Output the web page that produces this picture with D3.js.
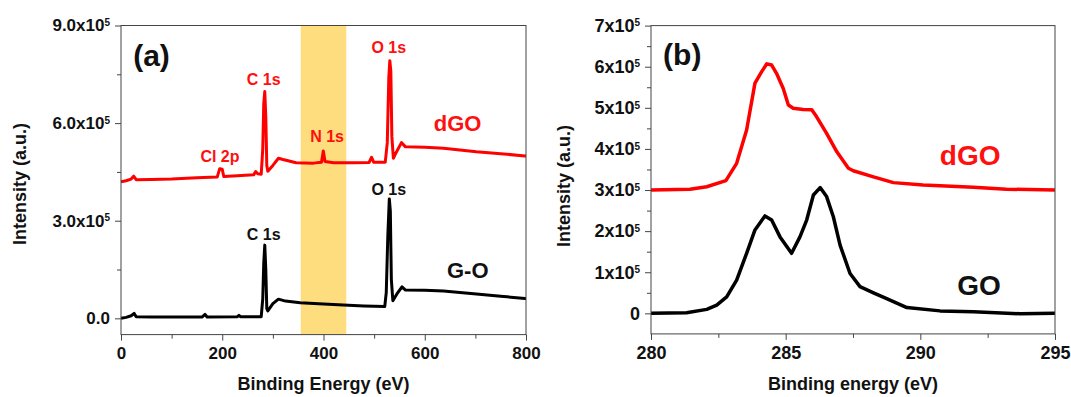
<!DOCTYPE html>
<html>
<head>
<meta charset="utf-8">
<script src="https://cdn.jsdelivr.net/npm/d3@7"></script>
<style>
  body { margin: 0; background: #fff; }
  svg text { font-family: "Liberation Sans", Arial, sans-serif; font-weight: bold; }
</style>
</head>
<body>
<div id="chart"></div>
<script>
// ---- data ----
// (a) survey spectra, [binding energy eV, intensity]
var dgoSurvey = [
  [0, 420000], [10, 423000], [20, 428000], [25, 437000], [30, 426000], [60, 427000],
  [100, 428000], [150, 432000], [190, 434000], [195, 460000], [200, 458000], [203, 436000],
  [230, 438000], [262, 441000], [266, 451000], [270, 444000], [277, 443000], [280, 520000],
  [282, 660000], [284, 697000], [286, 620000], [288, 470000], [290, 452000], [300, 470000],
  [311, 492000], [320, 488000], [346, 478000], [380, 477000], [396, 480000], [399.6, 514000],
  [403, 482000], [420, 478000], [460, 478000], [490, 479000], [495, 495000], [499, 480000],
  [522, 480000], [526, 540000], [529, 740000], [531, 792000], [533, 760000], [535, 560000],
  [538, 492000], [542, 505000], [554, 540000], [562, 527000], [600, 526000], [637, 523000],
  [702, 512000], [750, 506000], [798, 499000], [800, 499000]
];
var goSurvey = [
  [0, 0], [10, 3000], [20, 8000], [26, 15000], [30, 5000], [60, 4000], [100, 4000],
  [160, 4000], [166, 12000], [170, 4000], [230, 5000], [233, 9000], [236, 5000], [270, 5000],
  [277, 5000], [280, 60000], [282, 170000], [284, 225000], [286, 150000], [288, 30000],
  [290, 23000], [300, 45000], [311, 59000], [325, 53000], [354, 48000], [400, 44000],
  [439, 41000], [480, 38000], [521, 36000], [524, 80000], [527, 250000], [530, 367000],
  [532, 330000], [534, 120000], [537, 54000], [545, 75000], [555, 97000], [562, 87000],
  [600, 86000], [637, 84000], [702, 75000], [750, 68000], [798, 61000], [800, 61000]
];
var highlightBand = [355, 445];

// (b) C 1s high resolution
var dgoC1s = [
  [280, 300000], [281.45, 302000], [282.07, 308000], [282.78, 323000], [283.18, 365000],
  [283.55, 446000], [283.86, 560000], [284.11, 588000], [284.3, 607000], [284.48, 604000],
  [284.66, 584000], [284.91, 547000], [285.1, 507000], [285.28, 499000], [285.65, 496000],
  [285.97, 495000], [286.15, 478000], [286.52, 438000], [286.9, 393000], [287.33, 353000],
  [287.51, 347000], [288.26, 332000], [289, 318000], [290.1, 312000], [291.97, 306500],
  [293.2, 302000], [295, 300000]
];
var goC1s = [
  [280, 0], [281.32, 1600], [282.07, 9700], [282.44, 20000], [282.81, 40000], [283.18, 81000],
  [283.55, 146000], [283.86, 203000], [284.23, 237000], [284.48, 227000], [284.79, 186000],
  [285.22, 146000], [285.53, 186000], [285.78, 227000], [286.03, 288000], [286.28, 306000],
  [286.52, 284000], [286.77, 235000], [287.02, 166000], [287.39, 97000], [287.76, 65000],
  [288.26, 50000], [288.75, 36000], [289.5, 14000], [290.73, 6000], [291.97, 4000],
  [293.7, -1000], [295, 0]
];

// ticks
var surveyXTicks = [0, 200, 400, 600, 800];
var surveyXMinor = [100, 300, 500, 700];
var surveyYTicks = [0, 300000, 600000, 900000];
var surveyYLabels = ['0.0', '3.0x10', '6.0x10', '9.0x10'];
var surveyYMinor = [150000, 450000, 750000];
var c1sXTicks = [280, 285, 290, 295];
var c1sXMinor = [282.5, 287.5, 292.5];
var c1sYTicks = [0, 100000, 200000, 300000, 400000, 500000, 600000, 700000];
var c1sYLabels = ['0', '1x10', '2x10', '3x10', '4x10', '5x10', '6x10', '7x10'];
var c1sYMinor = [50000, 150000, 250000, 350000, 450000, 550000, 650000];

// peak labels [text, energy, intensity, colour]
var surveyLabels = [
  ['Cl 2p', 195.5, 480000, 'red'], ['C 1s', 282, 717000, 'red'], ['N 1s', 407, 542000, 'red'],
  ['O 1s', 529, 815000, 'red'], ['O 1s', 529, 379000, 'black'], ['C 1s', 282, 241000, 'black']
];
var surveyNames = [['dGO', 665, 576000, 'red'], ['G-O', 685, 124000, 'black']];
var c1sNames = [['dGO', 291.85, 361000, 'red'], ['GO', 292.18, 44500, 'black']];

var svg = d3.select('#chart').append('svg')
    .attr('width', 1071)
    .attr('height', 397);

function drawPanel(p) {
    var x = d3.scaleLinear().domain(p.xDomain).range(p.xRange);
    var y = d3.scaleLinear().domain(p.yDomain).range(p.yRange);
    var g = svg.append('g');

    if (p.band) {
        g.append('rect')
            .attr('x', x(p.band[0]))
            .attr('y', p.yRange[1])
            .attr('width', x(p.band[1]) - x(p.band[0]))
            .attr('height', p.yRange[0] - p.yRange[1])
            .attr('fill', '#fedd7f');
    }

    var line = d3.line()
        .x(function(d) { return x(d[0]); })
        .y(function(d) { return y(d[1]); });

    p.series.forEach(function(s) {
        g.append('path')
            .attr('d', line(s.data))
            .attr('fill', 'none')
            .attr('stroke', s.color)
            .attr('stroke-width', p.lineWidth)
            .attr('stroke-linejoin', 'round');
    });

    // frame
    g.append('rect')
        .attr('x', p.xRange[0])
        .attr('y', p.yRange[1])
        .attr('width', p.xRange[1] - p.xRange[0])
        .attr('height', p.yRange[0] - p.yRange[1])
        .attr('fill', 'none')
        .attr('stroke', '#444')
        .attr('stroke-width', 1);

    // x axis: minor ticks, then labelled major ticks
    var xAxis = g.append('g').attr('transform', 'translate(0,' + p.yRange[0] + ')');
    xAxis.call(d3.axisBottom(x).tickValues(p.xMinor).tickSize(4).tickFormat(''));
    var xMajor = xAxis.append('g').call(d3.axisBottom(x).tickValues(p.xTicks).tickSize(6)
        .tickPadding(6).tickFormat(d3.format('d')));
    xAxis.selectAll('.domain').remove();
    xAxis.selectAll('line').attr('stroke', '#444');
    xMajor.selectAll('text')
        .attr('fill', '#111')
        .style('font-size', p.tickFont + 'px');

    // y axis
    var yAxis = g.append('g').attr('transform', 'translate(' + p.xRange[0] + ',0)');
    yAxis.call(d3.axisLeft(y).tickValues(p.yMinor).tickSize(4).tickFormat(''));
    var yMajor = yAxis.append('g').call(d3.axisLeft(y).tickValues(p.yTicks).tickSize(6)
        .tickPadding(5).tickFormat(function(d, i) { return p.yLabels[i]; }));
    yAxis.selectAll('.domain').remove();
    yAxis.selectAll('line').attr('stroke', '#444');
    yMajor.selectAll('text')
        .attr('fill', '#111')
        .style('font-size', p.tickFont + 'px')
        .each(function(d) {
            if (d !== 0) {
                d3.select(this).append('tspan')
                    .attr('dy', '-0.55em')
                    .style('font-size', '10px')
                    .text('5');
            }
        });

    // axis titles
    g.append('text')
        .attr('x', (p.xRange[0] + p.xRange[1]) / 2)
        .attr('y', 390)
        .attr('text-anchor', 'middle')
        .attr('fill', '#111')
        .style('font-size', '18px')
        .text(p.xTitle);
    g.append('text')
        .attr('transform', 'translate(' + p.yTitleX + ',' + p.yTitleY + ') rotate(-90)')
        .attr('text-anchor', 'middle')
        .attr('fill', '#111')
        .style('font-size', '18px')
        .text('Intensity (a.u.)');

    // panel letter
    g.append('text')
        .attr('x', x(p.letterAt[0]))
        .attr('y', y(p.letterAt[1]))
        .attr('fill', '#111')
        .style('font-size', '30px')
        .text(p.letter);

    // peak and sample labels
    p.labels.forEach(function(l) {
        g.append('text')
            .attr('x', x(l[1]))
            .attr('y', y(l[2]))
            .attr('text-anchor', 'middle')
            .attr('fill', l[3] === 'red' ? '#ff1010' : '#111')
            .style('font-size', '16px')
            .text(l[0]);
    });
    p.names.forEach(function(l) {
        g.append('text')
            .attr('x', x(l[1]))
            .attr('y', y(l[2]))
            .attr('text-anchor', 'middle')
            .attr('fill', l[3] === 'red' ? '#ff1010' : '#111')
            .style('font-size', p.nameFont + 'px')
            .text(l[0]);
    });
}

drawPanel({
    xDomain: [0, 800], xRange: [121, 526],
    yDomain: [-50000, 900000], yRange: [334.6, 25.5],
    xTicks: surveyXTicks, xMinor: surveyXMinor,
    yTicks: surveyYTicks, yMinor: surveyYMinor, yLabels: surveyYLabels,
    band: highlightBand,
    series: [{data: goSurvey, color: '#000'}, {data: dgoSurvey, color: '#ff0000'}],
    lineWidth: 3, tickFont: 17, nameFont: 22,
    xTitle: 'Binding Energy (eV)', yTitleX: 26, yTitleY: 184,
    letter: '(a)', letterAt: [24, 775000],
    labels: surveyLabels, names: surveyNames
});

drawPanel({
    xDomain: [280, 295], xRange: [651, 1055],
    yDomain: [-50000, 700000], yRange: [333.9, 25.6],
    xTicks: c1sXTicks, xMinor: c1sXMinor,
    yTicks: c1sYTicks, yMinor: c1sYMinor, yLabels: c1sYLabels,
    band: null,
    series: [{data: goC1s, color: '#000'}, {data: dgoC1s, color: '#ff0000'}],
    lineWidth: 3.5, tickFont: 18, nameFont: 28,
    xTitle: 'Binding energy (eV)', yTitleX: 570, yTitleY: 186,
    letter: '(b)', letterAt: [280.45, 604000],
    labels: [], names: c1sNames
});
</script>
</body>
</html>
